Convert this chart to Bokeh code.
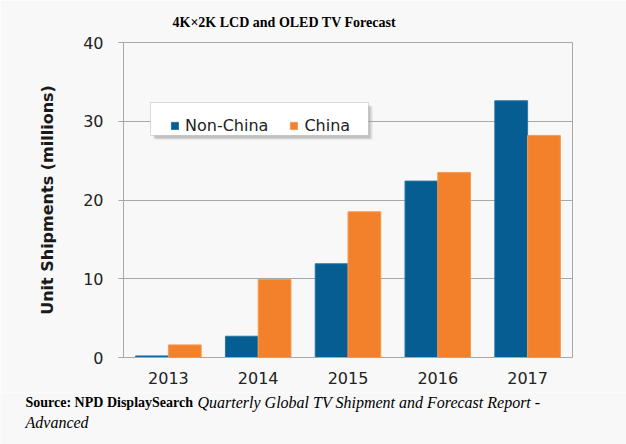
import numpy as np
from bokeh.plotting import figure
from bokeh.layouts import column
from bokeh.models import (ColumnDataSource, Range1d, FixedTicker, Legend, LegendItem,
                          Label, BoxAnnotation)
from bokeh.embed import file_html
from bokeh.resources import INLINE

years = ["2013", "2014", "2015", "2016", "2017"]
non_china = [0.2, 2.7, 11.9, 22.4, 32.6]
china = [1.6, 9.9, 18.5, 23.5, 28.2]
y_ticks = [0, 10, 20, 30, 40]

BLUE = "#065d92"
ORANGE = "#f3812b"
GRID = "#a8a8a8"
BG = "#f8f8f8"

centers = np.arange(len(years)) + 0.5
bw = 0.365
src = ColumnDataSource(dict(x_nc=centers - bw / 2, x_c=centers + bw / 2,
                            nc=non_china, c=china))

p = figure(width=626, height=392, output_backend="svg", toolbar_location=None,
           x_range=Range1d(0, len(years)), y_range=Range1d(0, 40),
           min_border_left=123, min_border_right=54, min_border_top=41,
           min_border_bottom=35)
p.background_fill_color = BG
p.border_fill_color = BG
p.outline_line_color = GRID

p.title.text = "4K×2K LCD and OLED TV Forecast"
p.title.align = "left"
p.title.offset = 49
p.title.text_font = "Liberation Serif"
p.title.text_font_style = "bold"
p.title.text_font_size = "14px"
p.title.text_color = "black"
p.title.standoff = 25

r1 = p.vbar(x="x_nc", top="nc", width=bw, source=src, fill_color=BLUE,
            line_color="#2a74a3", line_width=1)
r2 = p.vbar(x="x_c", top="c", width=bw, source=src, fill_color=ORANGE,
            line_color="#f59a55", line_width=1)

p.xaxis.ticker = FixedTicker(ticks=list(centers), minor_ticks=list(range(len(years) + 1)))
p.xaxis.major_label_overrides = {float(c): y for c, y in zip(centers, years)}
p.xaxis.major_tick_out = 0
p.xaxis.major_tick_in = 0
p.xaxis.minor_tick_out = 6
p.xaxis.minor_tick_in = 0
p.xaxis.major_label_standoff = 8
p.xgrid.visible = False

p.yaxis.ticker = FixedTicker(ticks=y_ticks)
p.yaxis.major_tick_out = 5
p.yaxis.major_tick_in = 0
p.yaxis.minor_tick_line_color = None
p.yaxis.major_label_standoff = 15
p.yaxis.axis_label = "Unit Shipments (millions)"
p.yaxis.axis_label_text_font = "DejaVu Sans"
p.yaxis.axis_label_text_font_style = "bold"
p.yaxis.axis_label_text_font_size = "16px"
p.yaxis.axis_label_text_color = "#1a1a1a"
p.yaxis.axis_label_standoff = 23
p.ygrid.grid_line_color = GRID

for ax in (p.xaxis, p.yaxis):
    ax.axis_line_color = GRID
    ax.major_tick_line_color = GRID
    ax.minor_tick_line_color = GRID if ax is p.xaxis else None
    ax.major_label_text_font = "DejaVu Sans"
    ax.major_label_text_font_size = "16px"
    ax.major_label_text_color = "#222222"

# legend frame with soft shadow
def sbox(l, r, b, t, **kw):
    return BoxAnnotation(left=l, right=r, bottom=b, top=t, left_units="screen",
                         right_units="screen", bottom_units="screen", top_units="screen", **kw)

p.add_layout(sbox(32, 249, 218, 251, fill_color="#999999", fill_alpha=0.25, line_color=None))
p.add_layout(sbox(30, 247, 219, 252, fill_color="#888888", fill_alpha=0.35, line_color=None))
p.add_layout(sbox(27, 245, 222, 255, fill_color="white", fill_alpha=1.0,
                  line_color="#8a8a8a", line_width=1))
legend = Legend(items=[LegendItem(label="Non-China", renderers=[r1]),
                       LegendItem(label="China", renderers=[r2])],
                orientation="horizontal", location=(47, 222),
                background_fill_alpha=0.0, border_line_color=None,
                padding=8, margin=0, spacing=21,
                glyph_width=9, glyph_height=9, label_standoff=6,
                label_text_font="DejaVu Sans", label_text_font_size="16px",
                label_text_color="#222222")
legend.label_height = 16
p.add_layout(legend, "center")

# footer figure with the source note
f = figure(width=626, height=52, output_backend="svg", toolbar_location=None,
           x_range=Range1d(0, 626), y_range=Range1d(52, 0),
           min_border_left=0, min_border_right=0, min_border_top=0, min_border_bottom=0)
f.axis.visible = False
f.grid.visible = False
f.outline_line_color = None
f.background_fill_color = BG
f.border_fill_color = BG
f.add_layout(Label(x=25, y=10, text="Source: NPD DisplaySearch", text_align="left",
                   text_baseline="middle", text_font="Liberation Serif",
                   text_font_style="bold", text_font_size="14px", text_color="black"))
f.add_layout(Label(x=197, y=10,
                   text="Quarterly Global TV Shipment and Forecast Report -",
                   text_align="left", text_baseline="middle", text_font="Liberation Serif",
                   text_font_style="italic", text_font_size="16px", text_color="black"))
f.add_layout(Label(x=25, y=30, text="Advanced", text_align="left",
                   text_baseline="middle", text_font="Liberation Serif",
                   text_font_style="italic", text_font_size="16px", text_color="black"))

for fig in (p, f):
    try:
        fig.frame_align = False
    except Exception:
        pass

layout = column(p, f, spacing=0)
open("out.html", "w").write(file_html(layout, INLINE))
